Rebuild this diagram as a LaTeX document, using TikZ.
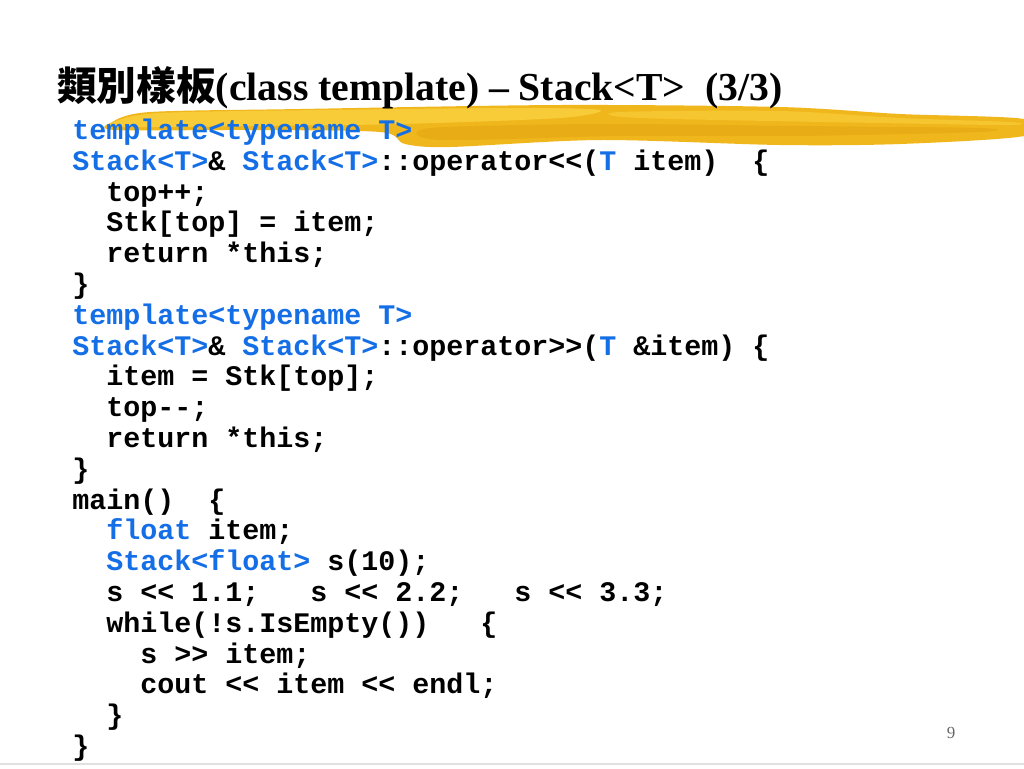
\documentclass[tikz,border=0pt]{standalone}
\usepackage{fontspec}
\setmainfont{Liberation Serif}
\setmonofont{Liberation Mono}
\newfontfamily\cjk{Noto Sans CJK TC}
\definecolor{codeblue}{RGB}{20,110,230}
\definecolor{brushcore}{RGB}{240,183,28}
\definecolor{brushlight}{RGB}{250,208,62}
\definecolor{brushdark}{RGB}{228,165,20}
\newcommand{\kw}[1]{\textcolor{codeblue}{#1}}

\begin{document}
\begin{tikzpicture}[x=0.7058pt,y=-0.7058pt,
    title/.style={anchor=base west,inner sep=0pt,font=\fontsize{28}{30}\selectfont\bfseries},
    code/.style={anchor=base west,inner sep=0pt,font=\fontsize{20}{22}\selectfont\ttfamily\bfseries},
    pageno/.style={inner sep=0pt,text=black!60,font=\fontsize{12}{14}\selectfont}]
    \useasboundingbox[fill=white] (0,0) rectangle (1024,768);
    % brush stroke behind the first line
    \fill[brushcore] plot[smooth cycle,tension=0.5] coordinates {(112,122) (150,112) (300,109) (560,105)
        (780,107) (900,114) (1024,119) (1024,136) (900,144) (780,145) (600,140) (450,147) (405,144)
        (380,132) (250,130) (115,130)};
    \fill[brushlight,opacity=0.85] plot[smooth cycle,tension=0.5] coordinates {(116,121) (160,113)
        (320,110) (520,108) (600,110) (560,118) (400,124) (250,126) (120,127)};
    \fill[brushdark,opacity=0.6] plot[smooth cycle,tension=0.5] coordinates {(430,128) (600,124)
        (800,126) (980,128) (980,132) (800,136) (620,136) (440,140)};
    \fill[brushlight,opacity=0.6] plot[smooth cycle,tension=0.5] coordinates {(620,112) (780,111)
        (900,118) (1010,122) (1010,125) (880,123) (640,118)};
    \node[title] (title) at (57,100) {{\cjk 類別樣板}(class template) – Stack<T>~~(3/3)};
    \node[code] (l1)  at (72,139)  {\kw{template<typename T>}};
    \node[code] (l2)  at (72,170)  {\kw{Stack<T>}\& \kw{Stack<T>}::operator<<(\kw{T} item)~~\{};
    \node[code] (l3)  at (106,201) {top++;};
    \node[code] (l4)  at (106,231) {Stk[top] = item;};
    \node[code] (l5)  at (106,262) {return *this;};
    \node[code] (l6)  at (72,293)  {\}};
    \node[code] (l7)  at (72,324)  {\kw{template<typename T>}};
    \node[code] (l8)  at (72,355)  {\kw{Stack<T>}\& \kw{Stack<T>}::operator>>(\kw{T} \&item) \{};
    \node[code] (l9)  at (106,385) {item = Stk[top];};
    \node[code] (l10) at (106,416) {top-{}-;};
    \node[code] (l11) at (106,447) {return *this;};
    \node[code] (l12) at (72,478)  {\}};
    \node[code] (l13) at (72,509)  {main()~~\{};
    \node[code] (l14) at (106,539) {\kw{float} item;};
    \node[code] (l15) at (106,570) {\kw{Stack<float>} s(10);};
    \node[code] (l16) at (106,601) {s << 1.1;~~~s << 2.2;~~~s << 3.3;};
    \node[code] (l17) at (106,632) {while(!s.IsEmpty())~~~\{};
    \node[code] (l18) at (140,663) {s >> item;};
    \node[code] (l19) at (140,693) {cout << item << endl;};
    \node[code] (l20) at (106,724) {\}};
    \node[code] (l21) at (72,755)  {\}};
    \node[pageno] (page) at (951,733) {9};
    \coordinate (footl) at (0,764);
    \coordinate (footr) at (1024,764);
    \draw[black!12,line width=1.2] (footl) -- (footr);
\end{tikzpicture}
\end{document}
